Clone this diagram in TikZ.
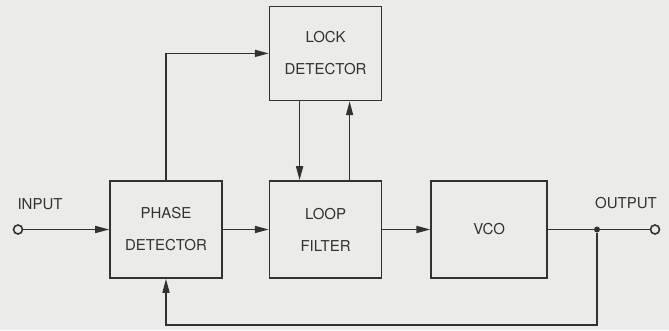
\documentclass[tikz,border=0pt]{standalone}
\usepackage{fontspec}
\setmainfont{TeX Gyre Heros}
\usetikzlibrary{arrows.meta,positioning}
\definecolor{paper}{RGB}{235,235,233}
\definecolor{ink}{RGB}{50,50,50}

\begin{document}
\begin{tikzpicture}[
  x=1pt, y=1pt,
  block/.style={
    draw=ink,
    line width=1.6pt,
    align=center,
    minimum width=112pt,
    minimum height=97pt,
    inner sep=0pt,
    text=ink,
    font=\fontsize{15}{32}\selectfont
  },
  line/.style={-{Triangle[length=14pt,width=7pt]}, line width=1.6pt, draw=ink},
  wire/.style={line width=1.6pt, draw=ink},
  term/.style={circle, draw=ink, line width=1.6pt, fill=paper, minimum size=9pt, inner sep=0pt},
  dot/.style={circle, fill=ink, minimum size=6pt, inner sep=0pt},
  tag/.style={text=ink, font=\fontsize{15}{17}\selectfont}
]
\fill[paper] (0,0) rectangle (669,330);
\useasboundingbox (0,0) rectangle (669,330);

% Main row
\node[block] (phase) at (166,100.5) {PHASE\\DETECTOR};
\node[block,right=46pt of phase] (filter) {LOOP\\FILTER};
\node[block,right=48pt of filter,minimum width=116pt] (vco) {VCO};

% Lock detector above the loop filter
\node[block,above=79pt of filter,minimum height=94pt] (lock) {LOCK\\DETECTOR};

% Terminals
\node[term] (in) at (18,100.5) {};
\node[term] (out) at (655,100.5) {};
\node[dot] (tap) at (597,100.5) {};
\coordinate (bottom) at (0,5);

\node[tag] (inlabel) at (40,126) {INPUT};
\node[tag] (outlabel) at (626,127) {OUTPUT};

% Signal path
\draw[line] (in) -- (phase);
\draw[line] (phase) -- (filter);
\draw[line] (filter) -- (vco);
\draw[wire] (vco) -- (tap) -- (out);

% Feedback to phase detector
\draw[line] (tap) -- (tap |- bottom) -| (phase.south);

% Lock detector loop
\draw[line] (phase.north) |- (lock.west);
\draw[line] ([xshift=-26pt]lock.south) -- ([xshift=-26pt]filter.north);
\draw[line] ([xshift=24pt]filter.north) -- ([xshift=24pt]lock.south);

\end{tikzpicture}
\end{document}
